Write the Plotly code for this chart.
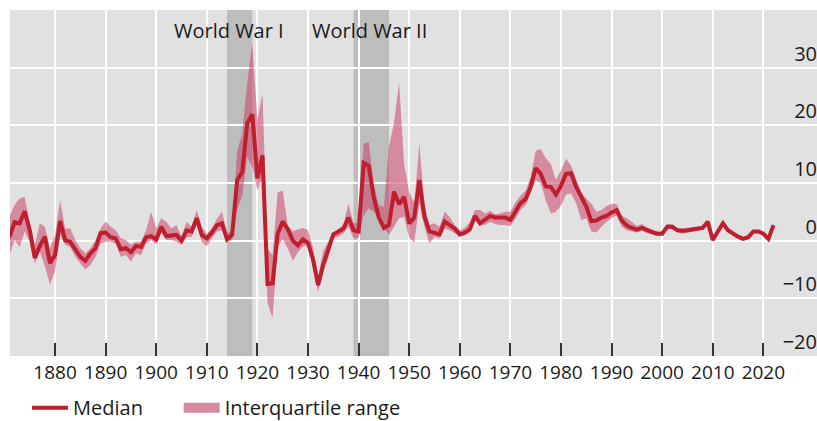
import plotly.graph_objects as go

years = list(range(1871, 2023))

median = [
    0.6, 3.2, 3.0, 5.1, 1.8, -3.0, -0.9, 0.7, -3.9, -2.5,            # 1871-1880
    3.4, 0.1, -0.2, -1.6, -2.8, -3.5, -2.2, -1.3, 1.3, 1.4,          # 1881-1890
    0.6, 0.4, -1.5, -1.3, -2.0, -0.9, -1.1, 0.6, 0.8, 0.2,           # 1891-1900
    2.4, 0.8, 0.9, 1.0, 0.0, 1.8, 1.6, 3.9, 1.0, 0.4,                # 1901-1910
    1.4, 2.7, 3.0, 0.2, 1.0, 10.5, 11.9, 20.4, 21.9, 10.8,           # 1911-1920
    14.8, -7.5, -7.4, 1.2, 3.3, 2.0, 0.0, -0.8, 0.2, -0.4,           # 1921-1930
    -3.3, -7.7, -4.2, -1.6, 1.1, 1.6, 2.1, 4.0, 1.8, 1.6,            # 1931-1940
    13.5, 13.0, 7.5, 4.0, 2.2, 2.7, 8.5, 6.3, 7.6, 3.0,              # 1941-1950
    4.0, 10.5, 4.2, 1.6, 1.3, 1.1, 3.3, 2.7, 2.1, 1.1,               # 1951-1960
    1.4, 2.0, 4.3, 3.0, 3.6, 4.3, 4.0, 4.0, 4.0, 3.6,                # 1961-1970
    5.2, 6.5, 7.2, 9.3, 12.6, 11.6, 9.4, 9.3, 8.0, 9.5,              # 1971-1980
    11.6, 11.7, 9.3, 7.4, 5.9, 3.4, 3.5, 4.0, 4.3, 4.9,              # 1981-1990
    5.3, 3.5, 2.6, 2.2, 1.9, 2.2, 1.8, 1.5, 1.2, 1.2,                # 1991-2000
    2.4, 2.4, 1.8, 1.7, 1.8, 1.9, 2.0, 2.2, 3.3, 0.1,                # 2001-2010
    1.6, 3.0, 1.8, 1.2, 0.7, 0.3, 0.6, 1.6, 1.6, 1.2,                # 2011-2020
    0.3, 2.7,                                                        # 2021-2022
]

iqr_low = [
    -2.5, 0.1, -1.1, 1.6, -0.2, -3.9, -1.9, -4.5, -7.6, -5.3,
    1.0, -0.7, -1.1, -2.8, -3.9, -5.0, -4.2, -2.8, -0.5, -0.2,
    -0.2, -0.5, -2.8, -2.5, -3.6, -2.2, -2.5, -0.5, 0.1, -0.7,
    1.3, 0.1, 0.1, -0.2, -0.7, 0.6, 0.7, 2.7, -0.2, -1.0,
    0.4, 1.6, 1.8, -0.2, 0.1, 5.3, 7.9, 14.5, 12.8, 8.7,
    11.0, -10.8, -13.4, -1.0, 0.3, -1.3, -3.5, -2.0, -1.0, -0.8,
    -4.8, -8.9, -5.1, -3.0, 0.4, 0.7, 1.3, 2.4, 0.4, 0.5,
    4.4, 5.6, 5.0, 3.9, 2.2, 1.0, 2.4, 3.9, 4.1, 0.5,
    -0.3, 6.5, 2.4, -0.5, 0.7, 0.4, 2.1, 1.8, 1.3, 0.7,
    1.0, 1.4, 3.6, 2.7, 2.7, 3.3, 2.9, 2.7, 2.7, 2.5,
    3.8, 5.3, 6.1, 8.2, 10.5, 9.9, 7.0, 4.7, 5.0, 6.1,
    8.0, 8.2, 6.5, 3.6, 3.9, 1.6, 1.4, 2.4, 3.3, 3.9,
    4.4, 2.4, 1.8, 1.6, 1.4, 1.7, 1.3, 1.1, 0.8, 0.9,
    2.1, 2.0, 1.4, 1.2, 1.4, 1.6, 1.8, 1.9, 2.9, -0.1,
    1.3, 2.7, 1.5, 0.9, 0.4, 0.0, 0.3, 1.3, 1.3, 0.9,
    0.0, 2.4,
]

iqr_high = [
    4.2, 6.2, 7.3, 7.6, 3.0, -0.7, 3.0, 2.4, -1.3, 1.0,
    7.0, 2.1, 2.1, 0.1, -1.3, -2.2, -1.3, 0.1, 2.1, 3.3,
    2.4, 1.8, 0.4, 0.1, -0.7, -0.2, -0.2, 1.8, 5.0, 2.1,
    3.9, 3.3, 2.1, 2.7, 0.7, 3.3, 2.4, 5.3, 2.4, 1.2,
    2.2, 3.8, 5.0, 1.3, 1.8, 15.6, 18.5, 27.5, 34.3, 21.0,
    25.5, -1.5, -2.5, 8.4, 8.7, 2.6, 1.6, 2.0, 2.2, 1.8,
    -1.2, -6.2, -1.8, -0.2, 1.4, 1.9, 2.8, 6.4, 3.0, 3.1,
    16.8, 17.1, 9.6, 6.2, 5.9, 16.3, 20.5, 27.4, 13.3, 8.5,
    6.5, 16.8, 6.4, 2.7, 3.0, 2.4, 5.0, 4.1, 2.7, 1.8,
    2.3, 3.3, 5.3, 5.3, 4.7, 5.2, 4.6, 4.7, 5.0, 5.0,
    6.6, 7.8, 8.7, 11.0, 15.6, 15.9, 14.3, 13.3, 10.5, 12.2,
    14.2, 13.0, 10.7, 8.4, 7.3, 6.4, 5.0, 5.3, 6.0, 6.4,
    6.3, 4.3, 3.9, 3.3, 2.6, 2.9, 2.3, 2.0, 1.6, 1.6,
    2.9, 2.8, 2.2, 2.1, 2.2, 2.3, 2.4, 2.6, 3.5, 0.4,
    2.0, 3.2, 2.2, 1.5, 0.9, 0.6, 0.9, 1.8, 1.8, 1.4,
    0.5, 2.9,
]

x_ticks = list(range(1880, 2030, 10))
y_ticks = [-20, -10, 0, 10, 20, 30]
wars = [("World War I", 1914, 1919, 1914.3), ("World War II", 1939, 1946, 1942.25)]

RED = "#be1e2d"
PINK = "rgba(201,51,89,0.5)"
PINK_SOLID = "#d58a9d"
BAND = "#bdbdbd"
BG = "#e1e1e1"
FONT = "Open Sans"
TXT = "#1a1a1a"

fig = go.Figure()
fig.add_trace(go.Scatter(x=years, y=iqr_low, mode="lines", line=dict(width=0, color=PINK),
                         showlegend=False, hoverinfo="skip"))
fig.add_trace(go.Scatter(x=years, y=iqr_high, mode="lines", line=dict(width=0, color=PINK),
                         fill="tonexty", fillcolor=PINK, name="Interquartile range",
                         showlegend=False))
fig.add_trace(go.Scatter(x=years, y=median, mode="lines", line=dict(width=4, color=RED),
                         name="Median", legend="legend"))
# legend key for the band (no data drawn)
fig.add_trace(go.Scatter(x=[None], y=[None], mode="lines",
                         line=dict(width=16, color=PINK_SOLID),
                         name="Interquartile range", legend="legend2"))

shapes = []
for name, a, b, cx in wars:
    shapes.append(dict(type="rect", xref="x", yref="paper", x0=a, x1=b, y0=0, y1=1,
                       fillcolor=BAND, line=dict(width=0), layer="between"))
shapes.append(dict(type="line", xref="paper", yref="y", x0=0, x1=1, y0=0, y1=0,
                   line=dict(color="#111111", width=1.5), layer="between"))

annotations = [dict(text=name, x=cx, xref="x", y=0.94, yref="paper", showarrow=False,
                    xanchor="center", yanchor="middle",
                    font=dict(family=FONT, size=20, color=TXT))
               for name, a, b, cx in wars]

legend_common = dict(orientation="h", xanchor="left", y=-0.093, yanchor="top",
                     font=dict(family=FONT, size=20, color=TXT),
                     itemwidth=36, bgcolor="rgba(0,0,0,0)")

fig.update_layout(
    width=817, height=421,
    margin=dict(l=10, r=0, t=10, b=65, autoexpand=False),
    paper_bgcolor="white", plot_bgcolor=BG,
    font=dict(family=FONT, size=19, color=TXT),
    shapes=shapes, annotations=annotations,
    showlegend=True,
    legend=dict(x=0.0211, **legend_common),
    legend2=dict(x=0.209, **legend_common),
    xaxis=dict(range=[1871.1, 2030.6], tickvals=x_ticks, ticks="inside", ticklen=13,
               tickwidth=1.5, tickcolor="#333333", showgrid=True, gridcolor="white",
               gridwidth=1.5, zeroline=False, showline=False, automargin=False,
               tickfont=dict(family=FONT, size=19, color=TXT), ticklabelstandoff=3),
    yaxis=dict(range=[-20, 40], tickvals=y_ticks, side="right", ticks="",
               ticklabelposition="inside top", showgrid=True, gridcolor="white",
               gridwidth=1.5, zeroline=False, showline=False, automargin=False,
               tickfont=dict(family=FONT, size=20, color=TXT), ticklabelstandoff=-3),
)

fig.write_html(
    "out.html",
    config={"displayModeBar": False},
    post_script="document.body.style.margin='0';document.body.style.overflow='hidden';",
)
